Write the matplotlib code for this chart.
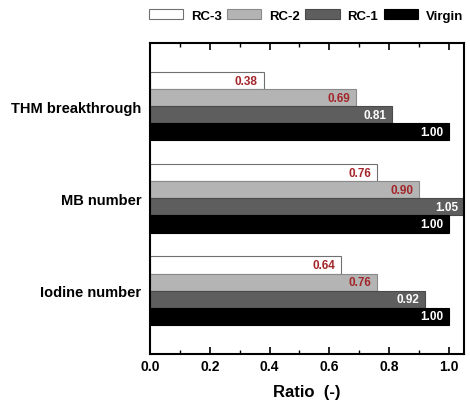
import numpy as np
import matplotlib.pyplot as plt
from matplotlib.ticker import MultipleLocator

plt.rcParams['font.family'] = ['Liberation Sans', 'DejaVu Sans']
plt.rcParams['font.weight'] = 'bold'

# categories (bottom to top)
categories = ["Iodine number", "MB number", "THM breakthrough"]
series = ["RC-3", "RC-2", "RC-1", "Virgin"]
rc3 = [0.64, 0.76, 0.38]
rc2 = [0.76, 0.90, 0.69]
rc1 = [0.92, 1.05, 0.81]
virgin = [1.00, 1.00, 1.00]

values = [rc3, rc2, rc1, virgin]
faces = ['white', '#b4b4b4', '#5e5e5e', 'black']
edges = ['#707070', '#8a8a8a', '#4a4a4a', 'black']
label_colors = ['#a3262a', '#a3262a', 'white', 'white']

fig = plt.figure(figsize=(4.7, 4.1), dpi=100)
ax = fig.add_axes([0.319, 0.134, 0.668, 0.759])

h = 0.185
y = np.arange(len(categories))
offsets = [1.5, 0.5, -0.5, -1.5]
for vals, off, fc, ec, lc, name in zip(values, offsets, faces, edges, label_colors, series):
    bars = ax.barh(y + off * h, vals, height=h, color=fc, edgecolor=ec, lw=0.8, label=name)
    for b, v in zip(bars, vals):
        ax.text(b.get_width() - 0.02, b.get_y() + b.get_height() / 2, f"{v:.2f}",
                ha='right', va='center', fontsize=8.5, color=lc, fontweight='bold')

ax.set_xlim(0, 1.05)
ax.set_ylim(-0.69, 2.69)
ax.set_yticks(y)
ax.set_yticklabels(categories, fontsize=10.5, fontweight='bold')
ax.tick_params(axis='y', length=0, pad=6)
ax.xaxis.set_major_locator(MultipleLocator(0.2))
ax.xaxis.set_minor_locator(MultipleLocator(0.1))
ax.tick_params(axis='x', which='both', direction='in', top=True, labelsize=10)
ax.tick_params(axis='x', which='major', length=5, width=1.2)
ax.tick_params(axis='x', which='minor', length=3, width=1)
ax.set_xlabel("Ratio  (-)", fontsize=12, fontweight='bold', labelpad=8)
for s in ax.spines.values():
    s.set_linewidth(1.5)

fig.legend(loc='center', bbox_to_anchor=(0.651, 0.96), ncol=4, frameon=False,
           fontsize=9.5, handlelength=2.6, handleheight=0.7, handletextpad=0.6,
           columnspacing=0.4, borderaxespad=0)

fig.savefig("out.png", dpi=100)
